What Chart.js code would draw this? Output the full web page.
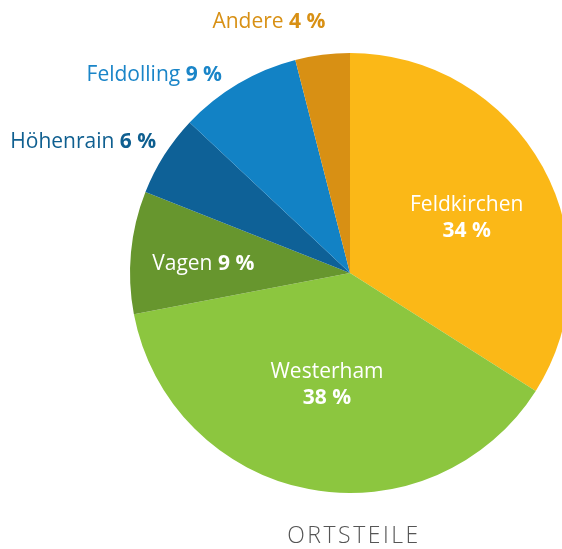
<!DOCTYPE html>
<html lang="de">
  <head>
    <meta charset="UTF-8" />
    <title>Ortsteile</title>
    <script src="https://cdn.jsdelivr.net/npm/chart.js"></script>
    <style>
      body {
        margin: 0;
        width: 562px;
        height: 549px;
        overflow: hidden;
        background: #fff;
        font-family: "Open Sans", "Noto Sans", sans-serif;
      }
      .wrap {
        position: relative;
        width: 562px;
        height: 549px;
      }
      #pie {
        position: absolute;
        left: 0;
        top: 0;
      }
      .titel {
        position: absolute;
        left: 2px;
        width: 704px;
        top: 519px;
        text-align: center;
        font-size: 23px;
        line-height: 31px;
        font-weight: 300;
        letter-spacing: 2.5px;
        color: #555;
      }
    </style>
  </head>
  <body>
    <div class="wrap">
      <canvas id="pie" width="600" height="549"></canvas>
      <div class="titel">ORTSTEILE</div>
    </div>
    <script>
      // Daten
      const ortsteile = ["Feldkirchen", "Westerham", "Vagen", "Höhenrain", "Feldolling", "Andere"];
      const anteile = [34, 38, 9, 6, 9, 4];
      const farben = ["#fbb817", "#8cc63f", "#67962e", "#0e6197", "#1282c5", "#d89014"];

      // Beschriftung: innen (weiss) oder aussen (farbig)
      const beschriftung = [
        { innen: true, zweiZeilig: true, f: 0.6, dx: 1, dy: 9 },
        { innen: true, zweiZeilig: true, f: 0.51, dx: -2, dy: 2 },
        { innen: true, zweiZeilig: false, f: 0.67, dx: 0, dy: 5 },
        { innen: false, farbe: "#0f5f90", f: 1, dx: -8, dy: -13 },
        { innen: false, farbe: "#1a85c8", f: 1, dx: -16, dy: -9 },
        { innen: false, farbe: "#d89014", f: 1, dx: 3, dy: -33 },
      ];

      const labelPlugin = {
        id: "labels",
        afterDatasetsDraw(chart) {
          const ctx = chart.ctx;
          const arcs = chart.getDatasetMeta(0).data;
          ctx.save();
          ctx.textBaseline = "middle";
          arcs.forEach((arc, i) => {
            const b = beschriftung[i];
            const mid = (arc.startAngle + arc.endAngle) / 2;
            const r = arc.outerRadius * b.f;
            const x = arc.x + Math.cos(mid) * r + b.dx;
            const y = arc.y + Math.sin(mid) * r + b.dy;
            const name = ortsteile[i];
            const wert = anteile[i] + " %";
            const normal = '21px "Open Sans", "Noto Sans", sans-serif';
            const fett = 'bold 21px "Open Sans", "Noto Sans", sans-serif';

            if (b.innen && b.zweiZeilig) {
              ctx.fillStyle = "#fff";
              ctx.textAlign = "center";
              ctx.font = normal;
              ctx.fillText(name, x, y - 13);
              ctx.font = fett;
              ctx.fillText(wert, x, y + 13);
              return;
            }

            ctx.font = normal;
            const w1 = ctx.measureText(name + " ").width;
            ctx.font = fett;
            const w2 = ctx.measureText(wert).width;
            // innen: zentriert, aussen: rechtsbuendig
            const start = b.innen ? x - (w1 + w2) / 2 : x - (w1 + w2);
            ctx.fillStyle = b.innen ? "#fff" : b.farbe;
            ctx.textAlign = "left";
            ctx.font = normal;
            ctx.fillText(name + " ", start, y);
            ctx.font = fett;
            ctx.fillText(wert, start + w1, y);
          });
          ctx.restore();
        },
      };

      new Chart(document.getElementById("pie"), {
        type: "pie",
        data: {
          labels: ortsteile,
          datasets: [
            {
              data: anteile,
              backgroundColor: farben,
              borderWidth: 0,
            },
          ],
        },
        options: {
          responsive: false,
          devicePixelRatio: 1,
          animation: false,
          layout: { padding: { left: 130, right: 30, top: 53, bottom: 56 } },
          plugins: {
            legend: { display: false },
            tooltip: { enabled: false },
          },
        },
        plugins: [labelPlugin],
      });
    </script>
  </body>
</html>
